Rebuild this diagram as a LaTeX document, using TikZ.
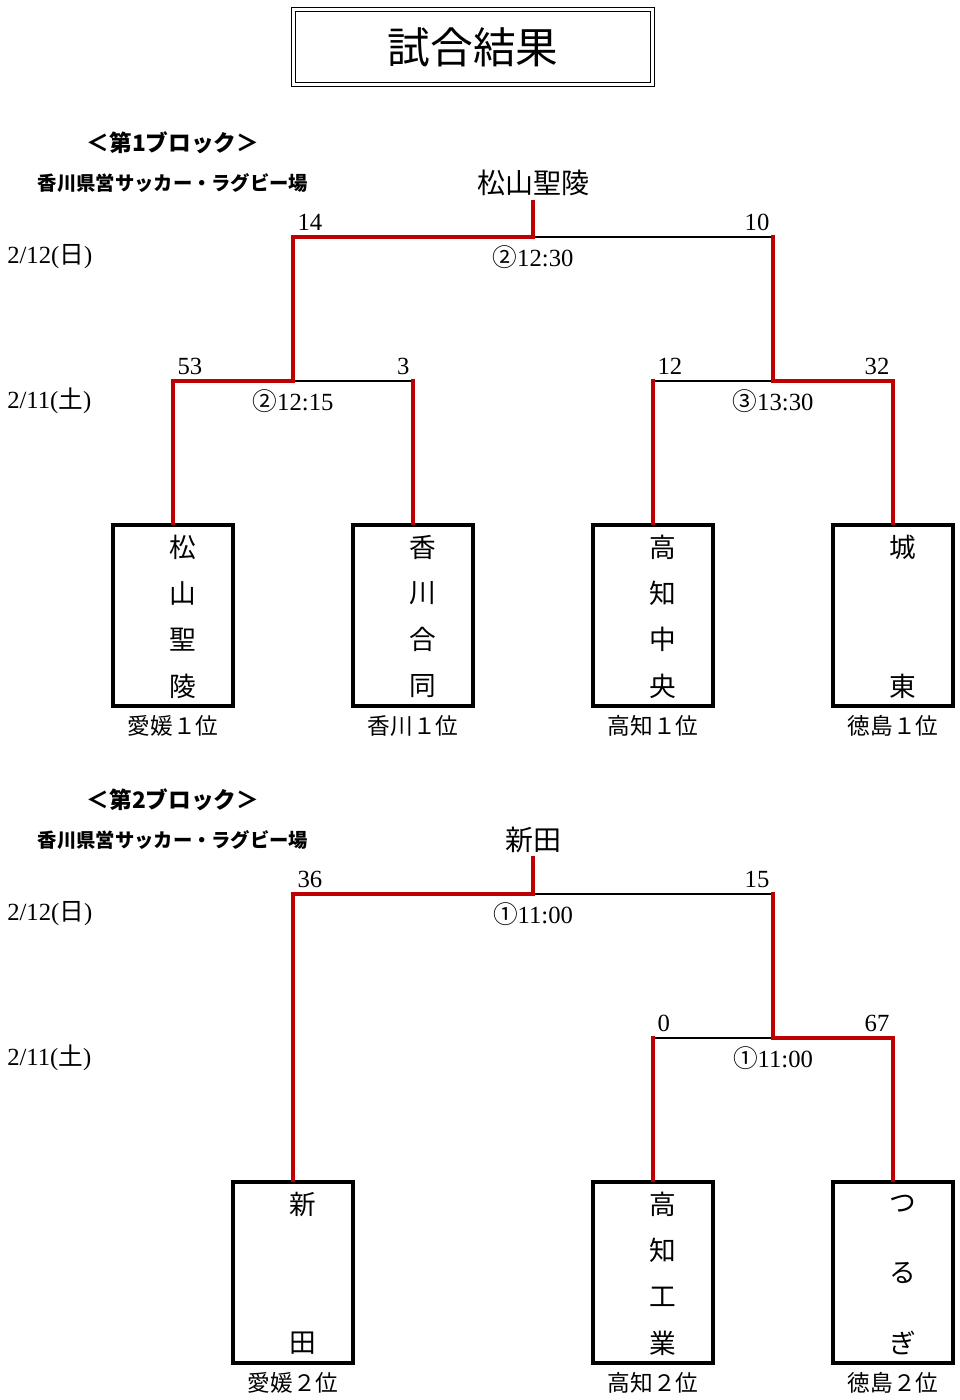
\documentclass[tikz,border=0pt]{standalone}
\usepackage{fontspec}
\setmainfont{Liberation Serif}
\newfontfamily\cjk{Noto Sans CJK JP}
\definecolor{winred}{HTML}{C00000}
\begin{document}
\begin{tikzpicture}[x = 0.75pt, y = -0.75pt,
        teambox/.style = {draw, line width = 2.6pt, minimum width = 90pt, minimum height = 135.75pt, inner sep = 0pt},
        namechar/.style = {font = \cjk\fontsize{20}{20}\selectfont, inner sep = 0pt},
        rank/.style = {font = \cjk\fontsize{17}{17}\selectfont, inner sep = 0pt},
        score/.style = {font = \fontsize{18.5}{18.5}\selectfont, inner sep = 1pt},
        slot/.style = {font = \fontsize{18.5}{18.5}\selectfont, inner sep = 0pt},
        day/.style = {font = \fontsize{18.5}{18.5}\selectfont, anchor = west, inner sep = 0pt},
        winner/.style = {font = \cjk\fontsize{21}{21}\selectfont, inner xsep = 0pt, inner ysep = 4pt},
        blockhead/.style = {font = \cjk\bfseries\fontsize{17}{17}\selectfont},
        venue/.style = {font = \cjk\bfseries\fontsize{14.5}{14.5}\selectfont},
        lost/.style = {line width = 1.2pt, black},
        won/.style = {line width = 3pt, winred, line cap = rect}]
    \useasboundingbox (0,0) rectangle (960,1400);
    \node[draw, double, double distance = 2.2pt, line width = 1pt, minimum width = 269pt, minimum height = 56pt,
        font = \cjk\fontsize{32}{32}\selectfont] (title) at (473,47) {試合結果};
    \begin{scope}
        \node[blockhead] (h1) at (173,143) {＜第1ブロック＞};
        \node[venue] (v1) at (173,183) {香川県営サッカー・ラグビー場};
        \node[winner] (w1) at (533,183) {松山聖陵};
        \node[day] (d1a) at (7,257) {2/12({\cjk 日})};
        \node[day] (d1b) at (7,401) {2/11({\cjk 土})};
        \foreach \n/\x/\lab in {a1/173/愛媛１位, a2/413/香川１位, a3/653/高知１位, a4/893/徳島１位} {
            \node[teambox] (\n) at (\x,615.5) {};
            \node[rank] (\n lab) at (\x,726) {\lab};
        }
        \foreach \n/\x/\s/\chars in {a1/183/46.33/{松,山,聖,陵}, a2/423/46.33/{香,川,合,同}, a3/663/46.33/{高,知,中,央}, a4/903/139/{城,東}} {
            \foreach \c [count = \i from 0] in \chars
                \node[namechar] (\n-\i) at (\x,{547 + \i*\s}) {\c};
        }
        \coordinate (f1) at (533,237);
        \coordinate (m1) at (293,381);
        \coordinate (m2) at (773,381);
        \draw[lost] (m1) -- (a2.north |- m1);
        \draw[lost] (a3.north |- m2) -- (m2);
        \draw[lost] (f1) -- (m2 |- f1);
        \draw[won] (a1.north) |- (m1) |- (f1) -- (w1.south);
        \draw[won] (a2.north) -- (a2.north |- m1);
        \draw[won] (a3.north) -- (a3.north |- m2);
        \draw[won] (a4.north) |- (m2) -- (m2 |- f1);
        \node[score, anchor = south west] (p1a) at (296,232) {14};
        \node[score, anchor = south east] (p1b) at (771,232) {10};
        \node[score, anchor = south west] (p1c) at (176,376) {53};
        \node[score, anchor = south east] (p1d) at (411,376) {3};
        \node[score, anchor = south west] (p1e) at (656,376) {12};
        \node[score, anchor = south east] (p1f) at (891,376) {32};
        \node[slot] (g1a) at (533,257) {{\cjk ②}12:30};
        \node[slot] (g1b) at (293,401) {{\cjk ②}12:15};
        \node[slot] (g1c) at (773,401) {{\cjk ③}13:30};
    \end{scope}
    \begin{scope}[shift = {(0,657)}]
        \node[blockhead] (h2) at (173,143) {＜第2ブロック＞};
        \node[venue] (v2) at (173,183) {香川県営サッカー・ラグビー場};
        \node[winner] (w2) at (533,183) {新田};
        \node[day] (d2a) at (7,257) {2/12({\cjk 日})};
        \node[day] (d2b) at (7,401) {2/11({\cjk 土})};
        \foreach \n/\x/\lab in {b1/293/愛媛２位, b3/653/高知２位, b4/893/徳島２位} {
            \node[teambox] (\n) at (\x,615.5) {};
            \node[rank] (\n lab) at (\x,726) {\lab};
        }
        \foreach \n/\x/\s/\chars in {b1/303/139/{新,田}, b3/663/46.33/{高,知,工,業}, b4/903/69.5/{つ,る,ぎ}} {
            \foreach \c [count = \i from 0] in \chars
                \node[namechar] (\n-\i) at (\x,{547 + \i*\s}) {\c};
        }
        \coordinate (f2) at (533,237);
        \coordinate (n2) at (773,381);
        \draw[lost] (f2) -- (n2 |- f2);
        \draw[lost] (b3.north |- n2) -- (n2);
        \draw[won] (b1.north) |- (f2) -- (w2.south);
        \draw[won] (b3.north) -- (b3.north |- n2);
        \draw[won] (b4.north) |- (n2) -- (n2 |- f2);
        \node[score, anchor = south west] (p2a) at (296,232) {36};
        \node[score, anchor = south east] (p2b) at (771,232) {15};
        \node[score, anchor = south west] (p2c) at (656,376) {0};
        \node[score, anchor = south east] (p2d) at (891,376) {67};
        \node[slot] (g2a) at (533,257) {{\cjk ①}11:00};
        \node[slot] (g2b) at (773,401) {{\cjk ①}11:00};
    \end{scope}
\end{tikzpicture}
\end{document}
